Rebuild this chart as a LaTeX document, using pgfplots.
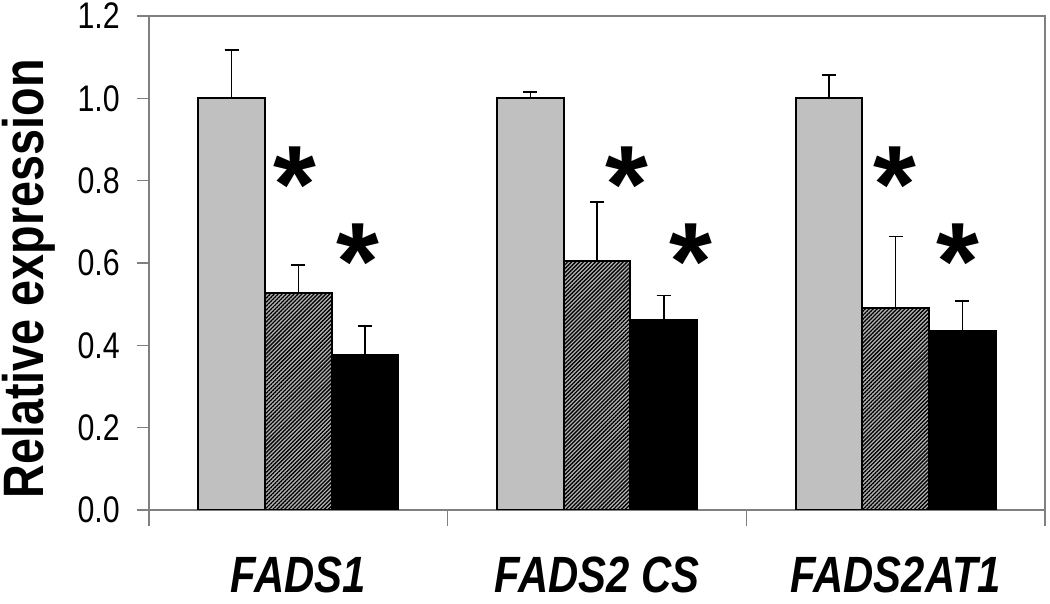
\documentclass[border=0pt]{standalone}
\usepackage{pgfplots}
\pgfplotsset{compat=1.18}
\usepackage{fontspec}
\setmainfont{Liberation Sans}[FakeStretch=0.82]
\newfontfamily\astfont{Liberation Sans}
\usetikzlibrary{patterns.meta}
\definecolor{axgray}{RGB}{128,128,128}
\definecolor{barGray}{RGB}{192,192,192}
\begin{document}
\begin{tikzpicture}[x=1bp,y=1bp]
\useasboundingbox (-149,-94) rectangle (901,510);
\begin{axis}[
  at={(0,0)}, anchor=south west, scale only axis,
  width=896bp, height=494bp,
  ybar, bar width=0.2233,
  xmin=-0.5, xmax=2.5, ymin=0, ymax=1.2,
  axis line style={draw=axgray, line width=1.2bp},
  tick style={draw=axgray, line width=1.2bp},
  tick align=outside,
  xtick pos=bottom, ytick pos=left,
  major tick length=12bp,
  minor tick length=16bp,
  ytick={0,0.2,0.4,0.6,0.8,1.0,1.2},
  yticklabel style={font=\fontsize{37bp}{40bp}\selectfont, xshift=-16bp, inner sep=1bp,
    /pgf/number format/.cd, fixed, fixed zerofill, precision=1, assume math mode=true},
  xtick={0,1,2},
  xticklabels={FADS1, FADS2 CS, FADS2AT1},
  major x tick style={draw=none},
  minor xtick={-0.5,0.5,1.5,2.5},
  xticklabel style={font=\fontsize{51bp}{54bp}\selectfont\bfseries\itshape, yshift=-33bp, inner sep=2bp},
  ylabel={Relative expression},
  every axis y label/.style={at={(rel axis cs:0,0.468)}, xshift=-120bp, rotate=90, anchor=center,
    font=\fontsize{57bp}{60bp}\selectfont\bfseries},
  error bars/y dir=plus, error bars/y explicit,
  error bars/error bar style={line width=1.6bp, black},
  error bars/error mark options={rotate=90, mark size=7bp, line width=1.6bp, black},
]
\addplot[bar shift=-0.2233, fill=barGray, draw=black, line width=2bp]
  coordinates {(0,1.0) +- (0,0.117) (1,1.0) +- (0,0.015) (2,1.0) +- (0,0.056)};
\addplot[bar shift=0, fill=gray!60, draw=black, line width=2bp,
  postaction={pattern={Lines[angle=45,distance=2.8bp,line width=1.3bp]}, pattern color=black}]
  coordinates {(0,0.526) +- (0,0.069) (1,0.605) +- (0,0.143) (2,0.491) +- (0,0.173)};
\addplot[bar shift=0.2233, fill=black, draw=black, line width=2bp]
  coordinates {(0,0.376) +- (0,0.071) (1,0.461) +- (0,0.060) (2,0.435) +- (0,0.073)};
\node[font=\astfont\bfseries\fontsize{110bp}{110bp}\selectfont, inner sep=0pt] at (axis cs:-0.01,0.79) {*};
\node[font=\astfont\bfseries\fontsize{110bp}{110bp}\selectfont, inner sep=0pt] at (axis cs:0.2,0.604) {*};
\node[font=\astfont\bfseries\fontsize{110bp}{110bp}\selectfont, inner sep=0pt] at (axis cs:1.1,0.79) {*};
\node[font=\astfont\bfseries\fontsize{110bp}{110bp}\selectfont, inner sep=0pt] at (axis cs:1.313,0.604) {*};
\node[font=\astfont\bfseries\fontsize{110bp}{110bp}\selectfont, inner sep=0pt] at (axis cs:1.997,0.79) {*};
\node[font=\astfont\bfseries\fontsize{110bp}{110bp}\selectfont, inner sep=0pt] at (axis cs:2.21,0.604) {*};
\end{axis}
\end{tikzpicture}
\end{document}
